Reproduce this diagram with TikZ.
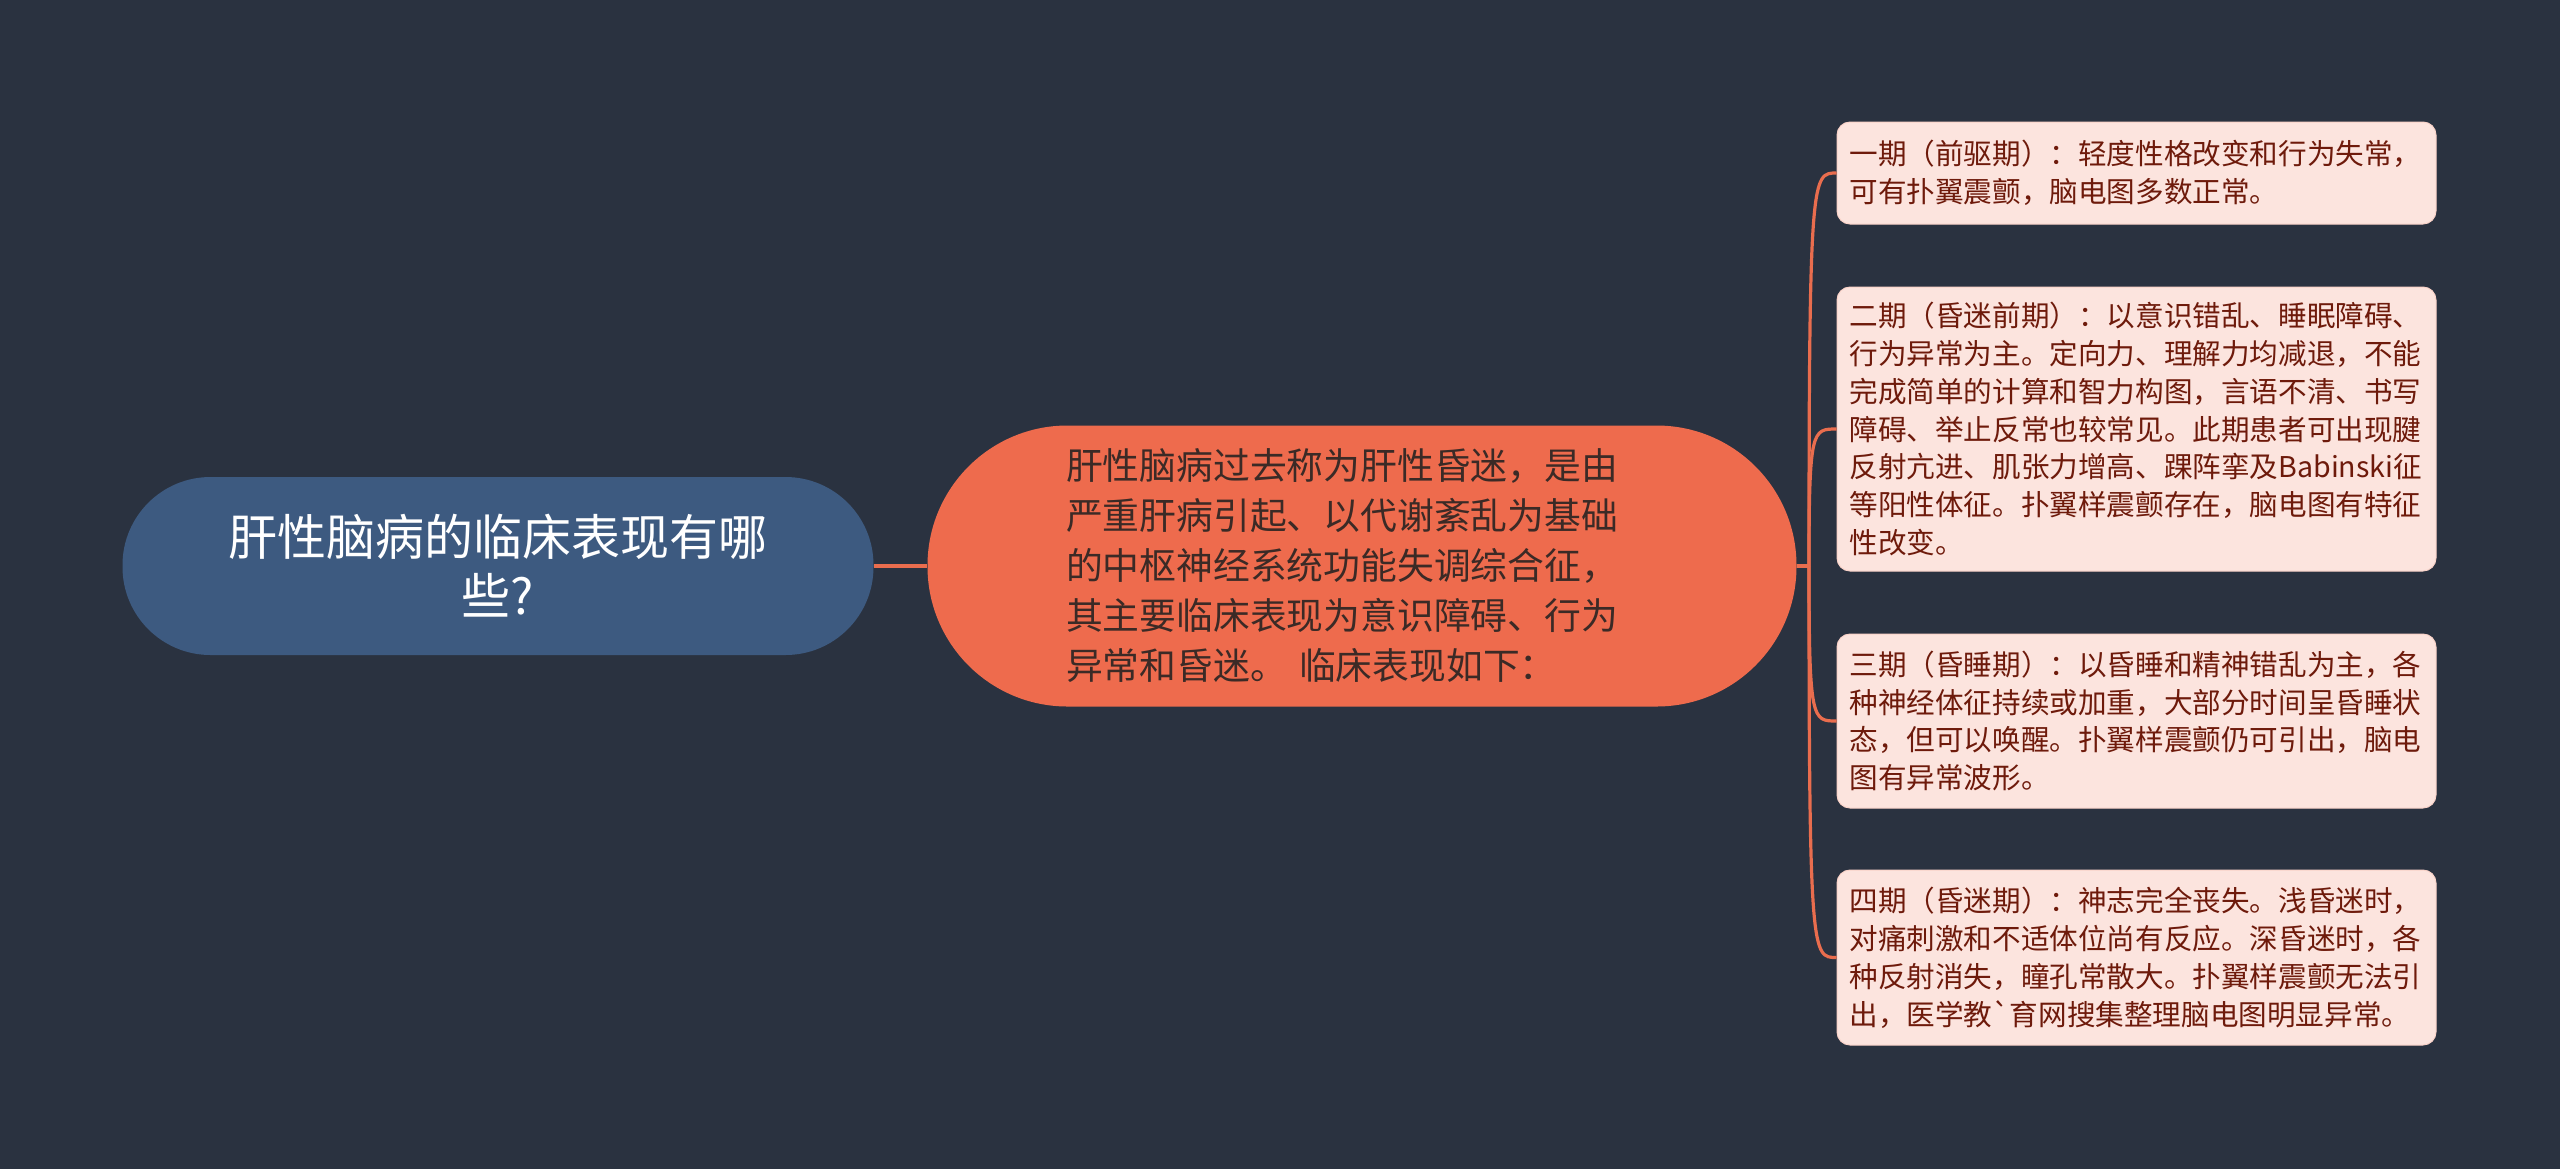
\documentclass[tikz,border=0pt]{standalone}
\usepackage{fontspec}
\setmainfont{Noto Sans CJK SC}[Ligatures=TeXOff]
\definecolor{bgc}{HTML}{2A3240}
\definecolor{rootc}{HTML}{3D5A80}
\definecolor{mainc}{HTML}{EE6B4D}
\definecolor{boxc}{HTML}{FCE4DE}
\definecolor{boxtxt}{HTML}{6E1A0B}
\definecolor{maintxt}{HTML}{3B2A26}
\definecolor{linec}{HTML}{E96D4E}
\tikzset{
  conn/.style={draw=linec, line width=1.6pt},
  rootbox/.style={fill=rootc, text=white, rounded corners=44pt, minimum width=375.5pt, minimum height=89pt, align=center, inner sep=0pt, font=\fontsize{24.5}{29.5}\selectfont},
  mainbox/.style={fill=mainc, text=maintxt, rounded corners=70pt, minimum width=434.5pt, minimum height=140.5pt, align=left, text width=296pt, inner sep=0pt, font=\fontsize{18.4}{25}\selectfont},
  leafbox/.style={fill=boxc, draw=boxc!85!linec, line width=0.5pt, text=boxtxt, rounded corners=6.5pt, minimum width=299.5pt, text width=287pt, inner xsep=6.25pt, inner ysep=0pt, align=left, font=\fontsize{14.3}{18.95}\selectfont}
}
\begin{document}
\begin{tikzpicture}[x=0.5pt,y=-0.5pt]
\fill[bgc] (0,0) rectangle (2560,1169);
\useasboundingbox (0,0) rectangle (2560,1169);

\node[rootbox] (root) at (498,566) {肝性脑病的临床表现有哪\\些?};
\node[mainbox] (main) at (1362,566) {肝性脑病过去称为肝性昏迷，是由\\严重肝病引起、以代谢紊乱为基础\\的中枢神经系统功能失调综合征，\\其主要临床表现为意识障碍、行为\\异常和昏迷。 临床表现如下：};

\node[leafbox, minimum height=51pt] (b1) at (2136.5,173) {一期（前驱期）：轻度性格改变和行为失常，\\可有扑翼震颤，脑电图多数正常。};
\node[leafbox, minimum height=142pt] (b2) at (2136.5,429) {二期（昏迷前期）：以意识错乱、睡眠障碍、\\行为异常为主。定向力、理解力均减退，不能\\完成简单的计算和智力构图，言语不清、书写\\障碍、举止反常也较常见。此期患者可出现腱\\反射亢进、肌张力增高、踝阵挛及Babinski征\\等阳性体征。扑翼样震颤存在，脑电图有特征\\性改变。};
\node[leafbox, minimum height=87pt] (b3) at (2136.5,721) {三期（昏睡期）：以昏睡和精神错乱为主，各\\种神经体征持续或加重，大部分时间呈昏睡状\\态，但可以唤醒。扑翼样震颤仍可引出，脑电\\图有异常波形。};
\node[leafbox, minimum height=87.5pt] (b4) at (2136.5,957.5) {四期（昏迷期）：神志完全丧失。浅昏迷时，\\对痛刺激和不适体位尚有反应。深昏迷时，各\\种反射消失，瞳孔常散大。扑翼样震颤无法引\\出，医学教`育网搜集整理脑电图明显异常。};

\coordinate (hub) at (1809,566);
\draw[conn] (root.east) -- (main.west);
\draw[conn] (main.east) -- (hub);
\draw[conn] (hub) .. controls (1809,173) and (1812,173) .. (b1.west);
\draw[conn] (hub) .. controls (1809,429) and (1812,429) .. (b2.west);
\draw[conn] (hub) .. controls (1809,721) and (1812,721) .. (b3.west);
\draw[conn] (hub) .. controls (1809,957.5) and (1812,957.5) .. (b4.west);
\end{tikzpicture}
\end{document}
